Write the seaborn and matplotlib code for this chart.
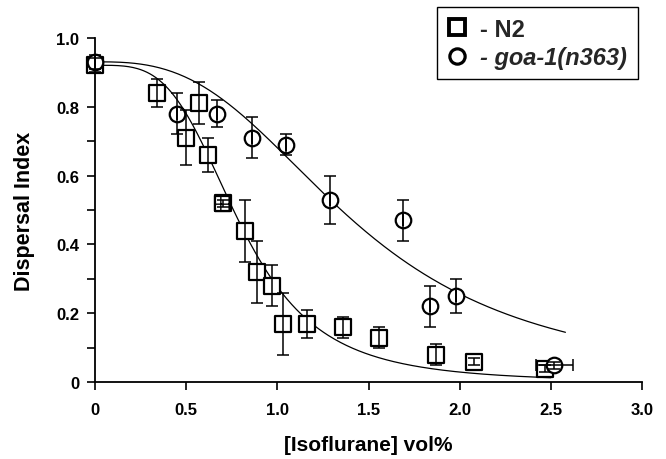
import numpy as np
import pandas as pd
import matplotlib
matplotlib.use("Agg")
import matplotlib.pyplot as plt
from matplotlib.ticker import MultipleLocator, FixedFormatter, FixedLocator
from matplotlib.lines import Line2D
import seaborn as sns

# Wild type (N2)
n2_conc = [0.00, 0.34, 0.50, 0.57, 0.62, 0.70, 0.82, 0.89, 0.97, 1.03, 1.16, 1.36, 1.56, 1.87, 2.08, 2.47]
n2_index = [0.92, 0.84, 0.71, 0.81, 0.66, 0.52, 0.44, 0.32, 0.28, 0.17, 0.17, 0.16, 0.13, 0.08, 0.06, 0.04]
n2_err = [0.02, 0.04, 0.08, 0.06, 0.05, 0.01, 0.09, 0.09, 0.06, 0.09, 0.04, 0.03, 0.03, 0.03, 0.01, 0.01]

# goa-1(n363) mutant
goa_conc = [0.00, 0.45, 0.67, 0.86, 1.05, 1.29, 1.69, 1.84, 1.98, 2.52]
goa_index = [0.93, 0.78, 0.78, 0.71, 0.69, 0.53, 0.47, 0.22, 0.25, 0.05]
goa_err = [0.02, 0.06, 0.04, 0.06, 0.03, 0.07, 0.06, 0.06, 0.05, 0.01]
goa_xerr = [0, 0, 0, 0, 0, 0, 0, 0, 0, 0.10]

# Hill fits: top, EC50, Hill slope, upper end of the fitted range
n2_fit = dict(top=0.92, ec50=0.796, slope=3.69, xmax=2.50)
goa_fit = dict(top=0.93, ec50=1.424, slope=2.84, xmax=2.58)

x_ticks = [0, 0.5, 1.0, 1.5, 2.0, 2.5, 3.0]
x_tick_labels = ["0", "0.5", "1.0", "1.5", "2.0", "2.5", "3.0"]
y_ticks = [0, 0.2, 0.4, 0.6, 0.8, 1.0]
y_tick_labels = ["0", "0.2", "0.4", "0.6", "0.8", "1.0"]


def hill(x, top, ec50, slope):
    return top / (1.0 + (x / ec50) ** slope)


sns.set_theme(style="ticks")
plt.rcParams["font.family"] = ["Liberation Sans", "DejaVu Sans"]
plt.rcParams["font.weight"] = "bold"

fig = plt.figure(figsize=(6.66, 4.60), dpi=100)
ax = fig.add_axes([95 / 666, 1 - 383.3 / 460, (642 - 95) / 666, (383.3 - 38.7) / 460])

# fitted curves
curves = []
for name, p in (("N2", n2_fit), ("goa", goa_fit)):
    xs = np.linspace(0, p["xmax"], 300)
    curves.append(pd.DataFrame({"x": xs, "y": hill(xs, p["top"], p["ec50"], p["slope"]), "g": name}))
curve_df = pd.concat(curves)
sns.lineplot(data=curve_df, x="x", y="y", units="g", estimator=None, color="black",
             linewidth=0.9, ax=ax, legend=False, zorder=2)

n2_df = pd.DataFrame({"x": n2_conc, "y": n2_index})
goa_df = pd.DataFrame({"x": goa_conc, "y": goa_index})

sns.scatterplot(data=n2_df, x="x", y="y", marker="s", s=120, facecolor="white",
                edgecolor="black", linewidth=1.6, ax=ax, zorder=3, clip_on=False, legend=False)
sns.scatterplot(data=goa_df, x="x", y="y", marker="o", s=125, facecolor="white",
                edgecolor="black", linewidth=1.6, ax=ax, zorder=3, clip_on=False, legend=False)

# grid-filled square at 0.70
ax.scatter([n2_conc[5]], [n2_index[5]], marker="s", s=120, facecolor="white",
           edgecolor="black", linewidth=1.6, hatch="++", zorder=3.5)

ax.errorbar(n2_conc, n2_index, yerr=n2_err, fmt="none", ecolor="black",
            elinewidth=1.1, capsize=4, capthick=1.1, zorder=4, clip_on=False)
ax.errorbar(goa_conc, goa_index, yerr=goa_err, xerr=goa_xerr, fmt="none", ecolor="black",
            elinewidth=1.1, capsize=4, capthick=1.1, zorder=4, clip_on=False)

ax.set_xlim(0, 3.0)
ax.set_ylim(0, 1.0)
ax.xaxis.set_major_locator(FixedLocator(x_ticks))
ax.xaxis.set_major_formatter(FixedFormatter(x_tick_labels))
ax.yaxis.set_major_locator(FixedLocator(y_ticks))
ax.yaxis.set_major_formatter(FixedFormatter(y_tick_labels))
ax.yaxis.set_minor_locator(MultipleLocator(0.1))

for side in ("top", "right"):
    ax.spines[side].set_visible(False)
for side in ("left", "bottom"):
    ax.spines[side].set_linewidth(1.3)
    ax.spines[side].set_color("black")

ax.tick_params(axis="both", which="major", length=6, width=1.2, color="black",
               labelsize=12, labelcolor="black", direction="out")
ax.tick_params(axis="x", which="major", pad=8)
ax.tick_params(axis="y", which="major", pad=5.5)
ax.tick_params(axis="y", which="minor", length=5.5, width=1.2, color="black")
for lab in ax.get_xticklabels() + ax.get_yticklabels():
    lab.set_fontweight("bold")

ax.set_xlabel("[Isoflurane] vol%", fontsize=15, fontweight="bold", color="black")
ax.set_ylabel("Dispersal Index", fontsize=15.5, fontweight="bold", color="black")
ax.xaxis.set_label_coords(0.5, -0.152)
ax.yaxis.set_label_coords(-0.11, 0.5)
ax.set_facecolor("white")

handles = [
    Line2D([], [], marker="s", linestyle="none", markersize=12, markerfacecolor="white",
           markeredgecolor="black", markeredgewidth=2.8),
    Line2D([], [], marker="o", linestyle="none", markersize=11, markerfacecolor="white",
           markeredgecolor="black", markeredgewidth=2.3),
]
leg = fig.legend(handles, ["- N2", "- goa-1(n363)"], loc="upper right",
                 bbox_to_anchor=(638 / 666, 1 - 8 / 460), frameon=True, fancybox=False,
                 edgecolor="black", framealpha=1, prop={"size": 17, "weight": "bold"},
                 handlelength=0.8, handletextpad=0.6, borderpad=0.45, labelspacing=0.22,
                 borderaxespad=0)
leg.get_frame().set_linewidth(1.0)
leg.get_texts()[1].set_style("italic")

fig.savefig("out.png", dpi=100, facecolor="white")
